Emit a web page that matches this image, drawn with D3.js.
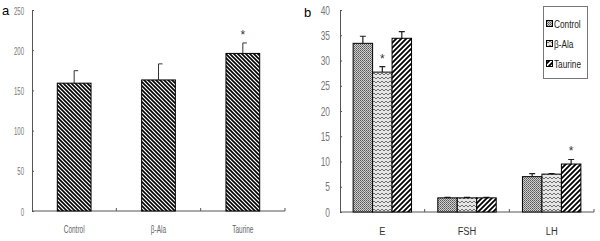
<!DOCTYPE html>
<html>
<head>
<meta charset="utf-8">
<script src="https://cdn.jsdelivr.net/npm/d3@7"></script>
<style>
  body { margin: 0; background: #fff; }
  text { font-family: "Liberation Sans", Arial, sans-serif; }
</style>
</head>
<body>
<div id="chart"></div>
<script>
// Panel a data
const groupsA = ["Control", "β-Ala", "Taurine"]
const valuesA = [159, 163, 196]
const errorsA = [15.5, 20, 13]
const starsA = [false, false, true]
const ticksA = [0, 50, 100, 150, 200, 250]

// Panel b data
const hormones = ["E", "FSH", "LH"]
const series = ["Control", "β-Ala", "Taurine"]
const valuesB = {
  "Control": [33.4, 2.8, 7.0],
  "β-Ala": [27.7, 2.8, 7.5],
  "Taurine": [34.4, 2.8, 9.5]
}
const errorsB = {
  "Control": [1.4, 0.1, 0.6],
  "β-Ala": [1.1, 0.1, 0.1],
  "Taurine": [1.3, 0.1, 0.9]
}
const starsB = [["β-Ala", "E"], ["Taurine", "LH"]]
const ticksB = [0, 5, 10, 15, 20, 25, 30, 35, 40]

;(function () {

  const svg = d3.select("#chart").append("svg")
      .attr("width", 600)
      .attr("height", 241)

  // squeeze text horizontally (the original uses a narrow font)
  function squeeze(sel, k, xPos, yPos) {
    sel.attr("x", null).attr("y", null).attr("dy", null)
      .attr("transform", (d, i) => `translate(${xPos(d, i)},${yPos(d, i)}) scale(${k},1)`)
  }

  // Fill patterns
  const defs = svg.append("defs")

  const pA = defs.append("pattern").attr("id", "hatchA")
    .attr("patternUnits", "userSpaceOnUse").attr("width", 4).attr("height", 4)
  pA.append("rect").attr("width", 4).attr("height", 4).attr("fill", "#fff")
  pA.append("path").attr("d", "M-1,-1 L5,5 M-1,3 L1,5 M3,-1 L5,1")
    .attr("stroke", "#000").attr("stroke-width", 1.6)

  const pC = defs.append("pattern").attr("id", "patControl")
    .attr("patternUnits", "userSpaceOnUse").attr("width", 2).attr("height", 2)
  pC.append("rect").attr("width", 2).attr("height", 2).attr("fill", "#d0d0d0")
  pC.append("rect").attr("width", 1).attr("height", 1).attr("fill", "#555")
  pC.append("rect").attr("x", 1).attr("y", 1).attr("width", 1).attr("height", 1).attr("fill", "#777")

  const pB = defs.append("pattern").attr("id", "patBeta")
    .attr("patternUnits", "userSpaceOnUse").attr("width", 4).attr("height", 4)
  pB.append("rect").attr("width", 4).attr("height", 4).attr("fill", "#e6e6e6")
  pB.append("path").attr("d", "M0,3 L2,1 L4,3")
    .attr("fill", "none").attr("stroke", "#707070").attr("stroke-width", 1)

  const pT = defs.append("pattern").attr("id", "patTaurine")
    .attr("patternUnits", "userSpaceOnUse").attr("width", 5).attr("height", 5)
  pT.append("rect").attr("width", 5).attr("height", 5).attr("fill", "#fff")
  pT.append("path").attr("d", "M-1,6 L6,-1 M-1,1 L1,-1 M4,6 L6,4")
    .attr("stroke", "#000").attr("stroke-width", 1.8)

  const fills = { "Control": "url(#patControl)", "β-Ala": "url(#patBeta)", "Taurine": "url(#patTaurine)" }

  // ---------- Panel a ----------
  const xA = d3.scaleBand().domain(groupsA).range([32, 285]).paddingInner(0).paddingOuter(0)
  const yA = d3.scaleLinear().domain([0, 250]).range([211, 10])

  const gA = svg.append("g")

  gA.append("g")
    .attr("transform", "translate(32,0)")
    .call(d3.axisRight(yA).tickValues(ticksA).tickSize(2).tickFormat(d3.format("d")))
    .call(g => g.selectAll("text").attr("text-anchor", "end")
      .attr("fill", "#777").style("font-size", "11px")
      .call(squeeze, 0.55, () => -8, () => 4))
    .call(g => g.select(".domain").attr("stroke", "#555"))
    .call(g => g.selectAll(".tick line").attr("stroke", "#555"))

  // x axis with ticks at band boundaries
  gA.append("line").attr("x1", 32).attr("x2", 285).attr("y1", 211).attr("y2", 211).attr("stroke", "#555")
  gA.selectAll(".btick").data(groupsA)
    .join("line").attr("class", "btick")
    .attr("x1", d => xA(d) + xA.bandwidth()).attr("x2", d => xA(d) + xA.bandwidth())
    .attr("y1", 211).attr("y2", 208).attr("stroke", "#555")

  gA.selectAll(".xlab").data(groupsA)
    .join("text").attr("class", "xlab")
    .attr("text-anchor", "middle")
    .attr("fill", "#666")
    .style("font-size", "10px")
    .text(d => d)
    .call(squeeze, 0.65, d => xA(d) + xA.bandwidth() / 2, () => 233)

  const barW = xA.bandwidth() * 0.4
  gA.selectAll(".err").data(groupsA)
    .join("path").attr("class", "err")
    .attr("d", (d, i) => {
      const cx = xA(d) + xA.bandwidth() / 2
      const top = yA(valuesA[i] + errorsA[i])
      return `M${cx},${yA(valuesA[i])}V${top}M${cx},${top}H${cx + 4}`
    })
    .attr("stroke", "#333").attr("stroke-width", 1).attr("fill", "none")

  gA.selectAll(".bar").data(groupsA)
    .join("rect").attr("class", "bar")
    .attr("x", d => xA(d) + (xA.bandwidth() - barW) / 2)
    .attr("width", barW)
    .attr("y", (d, i) => yA(valuesA[i]))
    .attr("height", (d, i) => 211 - yA(valuesA[i]))
    .attr("fill", "url(#hatchA)")
    .attr("stroke", "#000").attr("stroke-width", 1)

  gA.selectAll(".star").data(groupsA.filter((d, i) => starsA[i]))
    .join("text").attr("class", "star")
    .attr("x", d => xA(d) + xA.bandwidth() / 2)
    .attr("y", d => yA(valuesA[groupsA.indexOf(d)] + errorsA[groupsA.indexOf(d)]) - 4)
    .attr("text-anchor", "middle")
    .style("font-size", "12px")
    .attr("fill", "#333")
    .text("*")

  svg.append("text").attr("x", 2).attr("y", 15).style("font-size", "13px").text("a")

  // ---------- Panel b ----------
  const xB = d3.scaleBand().domain(hormones).range([340, 594])
  const yB = d3.scaleLinear().domain([0, 40]).range([212, 10])
  const groupW = xB.bandwidth() * 0.69
  const xS = d3.scaleBand().domain(series).range([0, groupW])

  const gB = svg.append("g")

  gB.append("g")
    .attr("transform", "translate(340,0)")
    .call(d3.axisRight(yB).tickValues(ticksB).tickSize(2))
    .call(g => g.selectAll("text").attr("text-anchor", "end")
      .attr("fill", "#777").style("font-size", "12px")
      .call(squeeze, 0.7, () => -10, () => 4))
    .call(g => g.select(".domain").attr("stroke", "#555"))
    .call(g => g.selectAll(".tick line").attr("stroke", "#555"))

  gB.append("line").attr("x1", 340).attr("x2", 594).attr("y1", 212).attr("y2", 212).attr("stroke", "#555")
  gB.selectAll(".btick").data(hormones)
    .join("line").attr("class", "btick")
    .attr("x1", d => xB(d) + xB.bandwidth()).attr("x2", d => xB(d) + xB.bandwidth())
    .attr("y1", 212).attr("y2", 209).attr("stroke", "#555")

  gB.selectAll(".xlab").data(hormones)
    .join("text").attr("class", "xlab")
    .attr("text-anchor", "middle")
    .attr("fill", "#333")
    .style("font-size", "11px")
    .text(d => d)
    .call(squeeze, 0.85, d => xB(d) + xB.bandwidth() / 2, () => 235)

  const cells = []
  hormones.forEach((h, hi) => series.forEach(s => cells.push({ h, s, v: valuesB[s][hi], e: errorsB[s][hi] })))
  const bx = d => xB(d.h) + (xB.bandwidth() - groupW) / 2 + xS(d.s)

  gB.selectAll(".err").data(cells)
    .join("path").attr("class", "err")
    .attr("d", d => {
      const cx = bx(d) + xS.bandwidth() / 2
      const top = yB(d.v + d.e)
      return `M${cx},${yB(d.v)}V${top}M${cx - 3},${top}H${cx + 3}`
    })
    .attr("stroke", "#222").attr("stroke-width", 1.2).attr("fill", "none")

  gB.selectAll(".bar").data(cells)
    .join("rect").attr("class", "bar")
    .attr("x", bx)
    .attr("width", xS.bandwidth())
    .attr("y", d => yB(d.v))
    .attr("height", d => 212 - yB(d.v))
    .attr("fill", d => fills[d.s])
    .attr("stroke", "#000").attr("stroke-width", 1)

  gB.selectAll(".star").data(starsB)
    .join("text").attr("class", "star")
    .attr("x", d => bx(cells.find(c => c.s === d[0] && c.h === d[1])) + xS.bandwidth() / 2)
    .attr("y", d => {
      const c = cells.find(c => c.s === d[0] && c.h === d[1])
      return yB(c.v + c.e) - 4
    })
    .attr("text-anchor", "middle")
    .style("font-size", "12px")
    .attr("fill", "#333")
    .text("*")

  svg.append("text").attr("x", 304).attr("y", 17).style("font-size", "13px").text("b")

  // Legend
  const leg = svg.append("g")
  leg.append("rect").attr("x", 543.5).attr("y", 6.5).attr("width", 44).attr("height", 72)
    .attr("fill", "#fff").attr("stroke", "#777")
  const ly = d3.scalePoint().domain(series).range([24, 64])
  leg.selectAll(".sw").data(series)
    .join("rect").attr("class", "sw")
    .attr("x", 546.5).attr("y", d => ly(d) - 3.5).attr("width", 6).attr("height", 6)
    .attr("fill", d => fills[d]).attr("stroke", "#000").attr("stroke-width", 1)
  leg.selectAll(".lt").data(series)
    .join("text").attr("class", "lt")
    .style("font-size", "11px")
    .attr("fill", "#222")
    .text(d => d)
    .call(squeeze, 0.75, () => 554, d => ly(d) + 4)

})();
</script>
</body>
</html>
